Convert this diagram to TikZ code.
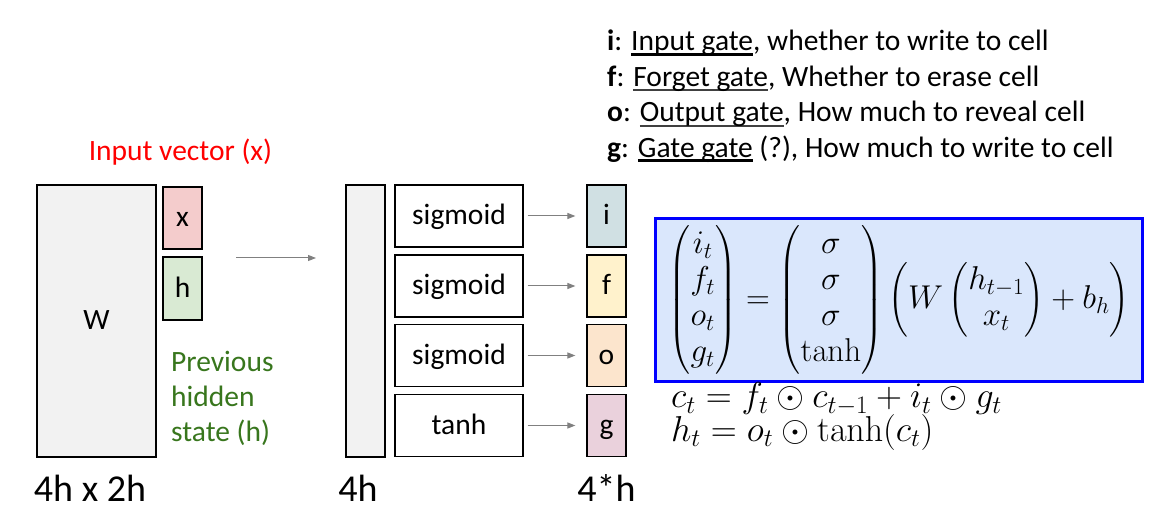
\documentclass[tikz,border=0pt]{standalone}
\usepackage{fix-cm}
\usepackage{amsmath}
\usepackage[no-math]{fontspec}
\setmainfont{Carlito}
\usetikzlibrary{arrows.meta}
\definecolor{wgray}{HTML}{F2F2F2}
\definecolor{xpink}{HTML}{F4CCCC}
\definecolor{hgreen}{HTML}{D9EAD3}
\definecolor{igate}{HTML}{D0E0E3}
\definecolor{fgate}{HTML}{FFF2CC}
\definecolor{ogate}{HTML}{FCE5CD}
\definecolor{ggate}{HTML}{EAD1DC}
\definecolor{eqblue}{HTML}{DAE7FC}
\definecolor{prevgreen}{HTML}{38761D}
\newcommand{\ulgate}[3][black]{\sbox0{#3}\rlap{\color{#1}\rule[-5pt]{\wd0}{#2}}\usebox0}
\begin{document}
\begin{tikzpicture}[x=1pt,y=-1pt,
    txt/.style={font=\fontsize{29.5}{36}\selectfont},
    big/.style={font=\fontsize{38}{44}\selectfont},
    mathtxt/.style={font=\fontsize{36}{40}\selectfont},
    cell/.style={draw, line width=1.2pt, inner sep=0pt, txt, text height=20pt, text depth=2pt},
    vec/.style={cell, minimum width=39, minimum height=62},
    gatebox/.style={cell, minimum width=128, minimum height=62},
    flow/.style={draw=gray, line width=1pt, -{Triangle[length=8pt,width=6pt]}}]
    \useasboundingbox (0,0) rectangle (1152,521);
    \node[txt, anchor=base west, inner sep=0pt] (li) at (607,51) {\textbf{i}: \ulgate{3pt}{Input gate}, whether to write to cell};
    \node[txt, anchor=base west, inner sep=0pt] (lf) at (607,86.5) {\textbf{f}: \ulgate[darkgray]{2pt}{Forget gate}, Whether to erase cell};
    \node[txt, anchor=base west, inner sep=0pt] (lo) at (607,122) {\textbf{o}: \ulgate[darkgray]{2pt}{Output gate}, How much to reveal cell};
    \node[txt, anchor=base west, inner sep=0pt] (lg) at (607,157.5) {\textbf{g}: \ulgate{3pt}{Gate gate} (?), How much to write to cell};
    \node[txt, red, anchor=base] (input) at (180.5,160.5) {Input vector (x)};
    \node[cell, fill=wgray, minimum width=119, minimum height=272] (W) at (96.5,321) {W};
    \node[vec, fill=xpink] (x) at (182.5,218) {x};
    \node[vec, fill=hgreen, minimum height=63] (h) at (182.5,288.5) {h};
    \node[txt, prevgreen, anchor=base west, inner sep=0pt] (prev1) at (171,371.5) {Previous};
    \node[txt, prevgreen, anchor=base west, inner sep=0pt] (prev2) at (171,406.5) {hidden};
    \node[txt, prevgreen, anchor=base west, inner sep=0pt] (prev3) at (171,441.5) {state (h)};
    \coordinate (mid a) at (236,258);
    \coordinate (mid b) at (316,258);
    \draw[flow] (mid a) -- (mid b);
    \node[cell, fill=wgray, minimum width=39, minimum height=272] (bar) at (365.5,321) {};
    \foreach \name/\fn/\ycen/\col in {i/sigmoid/216/igate, f/sigmoid/286/fgate, o/sigmoid/355.5/ogate, g/tanh/425.5/ggate} {
        \node[gatebox] (act \name) at (459,\ycen) {\fn};
        \node[vec, fill=\col] (out \name) at (606.5,\ycen) {\name};
        \draw[flow, shorten <=4pt, shorten >=11pt] (act \name) -- (out \name);
    }
    \node[big, anchor=base] (wsize) at (90,501) {4h x 2h};
    \node[big, anchor=base] (barsize) at (358,501) {4h};
    \node[big, anchor=base] (outsize) at (606.5,501) {4*h};
    \node[draw=blue, line width=3pt, fill=eqblue, minimum width=487, minimum height=163, inner sep=0pt] (eq) at (899,300)
        {\fontsize{33}{36}\selectfont $\begin{pmatrix} i_t\\ f_t\\ o_t\\ g_t \end{pmatrix} = \begin{pmatrix} \sigma\\ \sigma\\ \sigma\\ \tanh \end{pmatrix} \left( W \begin{pmatrix} h_{t-1}\\ x_t \end{pmatrix} + b_h \right)$};
    \node[mathtxt, anchor=base west, inner sep=0pt] (cell) at (671,408) {$c_t = f_t \odot c_{t-1} + i_t \odot g_t$};
    \node[mathtxt, anchor=base west, inner sep=0pt] (hid) at (671,441) {$h_t = o_t \odot \tanh(c_t)$};
\end{tikzpicture}
\end{document}
